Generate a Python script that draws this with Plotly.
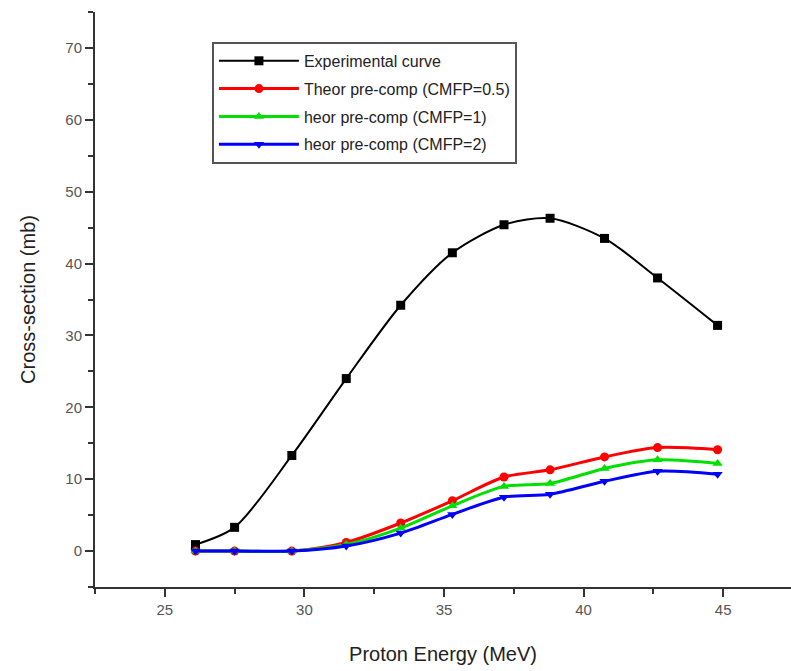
import plotly.graph_objects as go

energy = [26.1, 27.5, 29.55, 31.5, 33.45, 35.3, 37.15, 38.8, 40.75, 42.65, 44.8]
experimental = [0.9, 3.3, 13.3, 24.0, 34.2, 41.5, 45.4, 46.3, 43.5, 38.0, 31.4]
cmfp_05 = [0.0, 0.0, 0.0, 1.2, 3.9, 7.0, 10.3, 11.3, 13.1, 14.4, 14.1]
cmfp_1 = [0.0, 0.0, 0.0, 0.9, 3.2, 6.3, 9.0, 9.4, 11.5, 12.7, 12.2]
cmfp_2 = [0.0, 0.0, 0.0, 0.7, 2.5, 5.1, 7.5, 7.9, 9.7, 11.1, 10.7]

series_names = ["Experimental curve", "Theor pre-comp (CMFP=0.5)",
                "heor pre-comp (CMFP=1)", "heor pre-comp (CMFP=2)"]
series_values = [experimental, cmfp_05, cmfp_1, cmfp_2]
colors = ["#000000", "#ff0000", "#00e000", "#0000ff"]
symbols = ["square", "circle", "triangle-up", "triangle-down"]
widths = [2, 3, 3, 3]

fig = go.Figure()
for i, (name, vals, c, s, w) in enumerate(zip(series_names, series_values, colors, symbols, widths)):
    fig.add_trace(go.Scatter(
        x=energy, y=vals, name=name, mode="lines+markers", legendgroup=f"g{i}",
        line=dict(color=c, width=w, shape="spline", smoothing=0.8),
        marker=dict(symbol=s, color=c, size=9),
    ))

font_family = "Liberation Sans, Arial, sans-serif"
fig.update_layout(
    width=791, height=671,
    margin=dict(l=95, r=0, t=12, b=84),
    paper_bgcolor="white", plot_bgcolor="white",
    font=dict(family=font_family, color="#333333"),
    showlegend=True,
    legend=dict(
        x=0.168, y=0.948, xanchor="left", yanchor="top",
        bordercolor="#555555", borderwidth=2, bgcolor="white",
        font=dict(size=16, color="#222222", family=font_family),
        itemwidth=80, tracegroupgap=4,
    ),
    xaxis=dict(
        range=[22.5, 47.43], dtick=5, tick0=0,
        showgrid=False, zeroline=False,
        showline=True, linecolor="#333333", linewidth=2,
        ticks="outside", ticklen=8, tickwidth=1.5, tickcolor="#333333",
        minor=dict(dtick=2.5, ticks="outside", ticklen=5, tickcolor="#333333", tickwidth=1.5),
        tickfont=dict(size=15, color="#555555"),
        title=dict(text="Proton Energy (MeV)", font=dict(size=20, color="#222222"), standoff=30),
    ),
    yaxis=dict(
        range=[-5, 75], dtick=10, tick0=0,
        showgrid=False, zeroline=False,
        showline=True, linecolor="#333333", linewidth=2,
        ticks="outside", ticklen=8, tickwidth=1.5, tickcolor="#333333",
        minor=dict(dtick=5, ticks="outside", ticklen=5, tickcolor="#333333", tickwidth=1.5),
        tickfont=dict(size=15, color="#555555"),
        title=dict(text="Cross-section (mb)", font=dict(size=20, color="#222222"), standoff=24),
    ),
)

fig.write_html("out.html")
